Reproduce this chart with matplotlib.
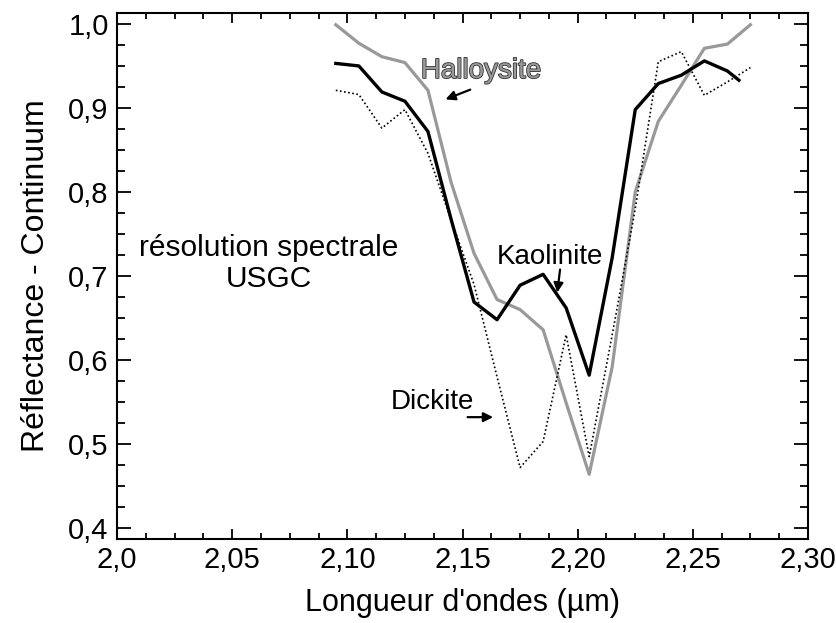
import matplotlib
matplotlib.use("Agg")
import matplotlib.pyplot as plt
import matplotlib.patheffects as pe
from matplotlib.ticker import MultipleLocator, FuncFormatter

plt.rcParams["font.family"] = ["Liberation Sans", "DejaVu Sans"]

# longueurs d'onde (µm), pas USGS ~0.01
wl = [2.095, 2.105, 2.115, 2.125, 2.135, 2.145, 2.155, 2.165, 2.175, 2.185,
      2.195, 2.205, 2.215, 2.225, 2.235, 2.245, 2.255, 2.265, 2.275]
wl_kaol = [2.095, 2.105, 2.115, 2.125, 2.135, 2.145, 2.155, 2.165, 2.175, 2.185,
           2.195, 2.205, 2.215, 2.225, 2.235, 2.245, 2.255, 2.265, 2.270]

halloysite = [0.999, 0.977, 0.961, 0.954, 0.921, 0.812, 0.727, 0.672, 0.660, 0.636,
              0.549, 0.464, 0.592, 0.800, 0.884, 0.927, 0.971, 0.976, 0.999]
kaolinite = [0.953, 0.950, 0.919, 0.908, 0.872, 0.768, 0.669, 0.648, 0.689, 0.702,
             0.662, 0.582, 0.722, 0.898, 0.929, 0.939, 0.956, 0.944, 0.933]
dickite = [0.921, 0.916, 0.876, 0.898, 0.846, 0.767, 0.690, 0.580, 0.472, 0.503,
           0.630, 0.485, 0.630, 0.780, 0.955, 0.967, 0.915, 0.931, 0.948]

W, H = 837, 623
fig = plt.figure(figsize=(W / 100, H / 100), dpi=100)
ax = fig.add_axes([117 / W, 1 - 539 / H, (808 - 117) / W, (539 - 13) / H])

ax.plot(wl, halloysite, color="#999999", linewidth=2.3)
ax.plot(wl, dickite, color="black", linewidth=1.2, linestyle=(0, (1, 1.5)))
ax.plot(wl_kaol, kaolinite, color="black", linewidth=2.4)

ax.set_xlim(2.0, 2.30)
ax.set_ylim(0.387, 1.013)

ax.xaxis.set_major_locator(MultipleLocator(0.05))
ax.xaxis.set_minor_locator(MultipleLocator(0.0125))
ax.yaxis.set_major_locator(MultipleLocator(0.1))
ax.yaxis.set_minor_locator(MultipleLocator(0.025))

def fmt_x(v, pos):
    s = "2,0" if abs(v - 2.0) < 1e-6 else f"{v:.2f}"
    return s.replace(".", ",")

ax.xaxis.set_major_formatter(FuncFormatter(fmt_x))
ax.yaxis.set_major_formatter(FuncFormatter(lambda v, p: f"{v:.1f}".replace(".", ",")))

ax.tick_params(which="both", direction="in", top=True, right=True, width=1.3,
               labelsize=21, colors="black")
ax.tick_params(axis="x", which="major", length=7, pad=5)
ax.tick_params(axis="x", which="minor", length=4)
ax.tick_params(axis="y", which="major", length=10, pad=6)
ax.tick_params(axis="y", which="minor", length=5.5)
for s in ax.spines.values():
    s.set_linewidth(1.5)

ax.set_xlabel("Longueur d'ondes (µm)", fontsize=22, labelpad=10)
ax.set_ylabel("Réflectance - Continuum", fontsize=23, labelpad=12)

# étiquettes des courbes
ax.text(2.158, 0.944, "Halloysite", fontsize=20, color="#999999", ha="center", va="center",
        path_effects=[pe.Stroke(linewidth=1.2, foreground="#333333"), pe.Normal()])
ax.annotate("", xy=(2.1415, 0.909), xytext=(2.1545, 0.923),
            arrowprops=dict(arrowstyle="-|>", color="black", lw=1.6, mutation_scale=14))

ax.text(2.188, 0.723, "Kaolinite", fontsize=20, ha="center", va="center")
ax.annotate("", xy=(2.191, 0.677), xytext=(2.1925, 0.711),
            arrowprops=dict(arrowstyle="-|>", color="black", lw=1.6, mutation_scale=14))

ax.text(2.137, 0.550, "Dickite", fontsize=20, ha="center", va="center")
ax.annotate("", xy=(2.1645, 0.532), xytext=(2.151, 0.532),
            arrowprops=dict(arrowstyle="-|>", color="black", lw=1.6, mutation_scale=14))

ax.text(2.066, 0.715, "résolution spectrale\nUSGC", fontsize=21.5, ha="center", va="center",
        linespacing=1.15)

fig.savefig("out.png", dpi=100)
